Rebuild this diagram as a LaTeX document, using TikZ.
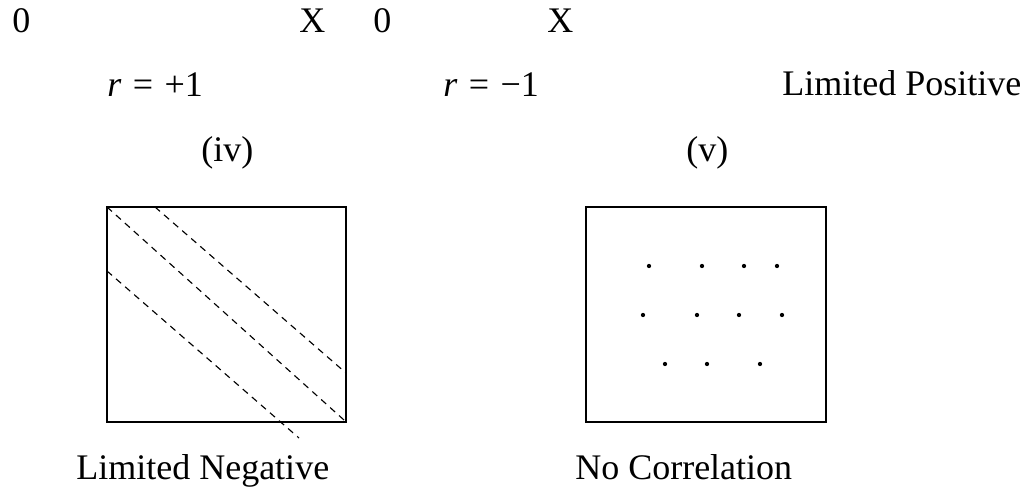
\documentclass[tikz,border=0pt]{standalone}
\usepackage{fontspec}
\setmainfont{Liberation Serif}
\usepackage{tikz}
\usetikzlibrary{positioning}

\begin{document}
\begin{tikzpicture}[
    x=0.75pt, y=-0.75pt,
    lbl/.style={anchor=base west, inner sep=0pt, font=\fontsize{27}{32}\selectfont},
    frame/.style={draw, line width=1.5pt},
    trend/.style={line width=0.85pt, dash pattern=on 5pt off 4pt},
    spot/.style={fill=black}
]
\useasboundingbox (0,0) rectangle (1028,493);

% top axis labels
\node[lbl] (o1) at (12,32) {0};
\node[lbl] (x1) at (299,32) {X};
\node[lbl] (o2) at (373,32) {0};
\node[lbl] (x2) at (547,32) {X};

\node[lbl] (rpos) at (107,96) {\textit{r}\hspace{0.07em} = \hspace{0.07em}+1};
\node[lbl] (rneg) at (443,96) {\textit{r}\hspace{0.07em} = \hspace{0.07em}−1};
\node[lbl] (limpos) at (782,95) {Limited Positive};

\node[lbl] (iv) at (201,161) {(iv)};
\node[lbl] (v) at (686,161) {(v)};

% limited negative
\draw[frame] (107,207) rectangle (346,422);
\draw[trend] (107,207) -- (344,420);
\draw[trend] (155,207) -- (346,373);
\draw[trend] (107,271) -- (299,438);

% no correlation
\draw[frame] (586,207) rectangle (826,422);
\foreach \px/\py in {649/266, 702/266, 744/266, 777/266,
                     643/315, 697/315, 739/315, 782/315,
                     665/364, 707/364, 760/364}
    \fill[spot] (\px,\py) circle (1.6pt);

\node[lbl] (limneg) at (76,479) {Limited Negative};
\node[lbl] (nocorr) at (575,479) {No Correlation};
\end{tikzpicture}
\end{document}
